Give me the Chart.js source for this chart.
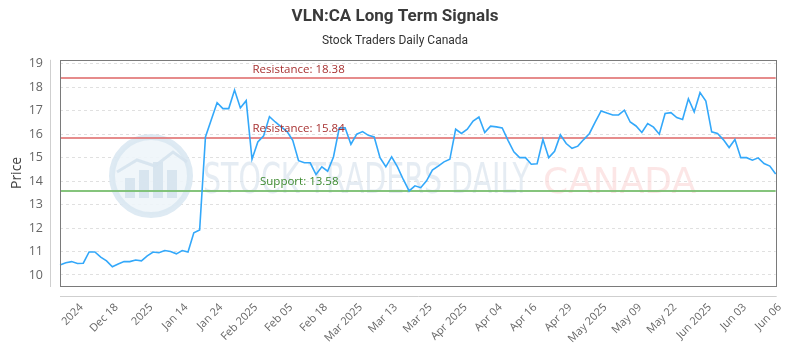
<!DOCTYPE html>
<html>
<head>
<meta charset="utf-8">
<script src="https://cdn.jsdelivr.net/npm/chart.js@4"></script>
<style>
  html, body { margin: 0; padding: 0; background: #fff; }
  #wrap { width: 800px; height: 350px; }
</style>
</head>
<body>
<div id="wrap"><canvas id="chart" width="800" height="350"></canvas></div>
<script>
// Daily closing prices, VLN:CA
const prices = [
  10.43, 10.52, 10.57, 10.49, 10.50, 10.98, 10.98, 10.76, 10.60, 10.35,
  10.47, 10.57, 10.57, 10.64, 10.60, 10.81, 10.98, 10.95, 11.04, 11.00,
  10.90, 11.04, 10.98, 11.80, 11.92, 15.88, 16.62, 17.34, 17.09, 17.09,
  17.88, 17.12, 17.43, 14.93, 15.67, 15.93, 16.75, 16.52, 16.31, 16.12,
  15.74, 14.87, 14.78, 14.78, 14.28, 14.61, 14.42, 15.03, 16.27, 16.27,
  15.57, 16.00, 16.11, 15.95, 15.88, 15.00, 14.61, 15.03, 14.61, 14.07,
  13.58, 13.80, 13.72, 14.01, 14.47, 14.64, 14.82, 14.93, 16.21, 16.03,
  16.21, 16.56, 16.73, 16.07, 16.34, 16.31, 16.27, 15.74, 15.25, 15.00,
  15.00, 14.72, 14.74, 15.77, 15.00, 15.27, 15.97, 15.60, 15.40, 15.49,
  15.77, 16.03, 16.52, 16.99, 16.90, 16.82, 16.82, 17.02, 16.52, 16.35,
  16.07, 16.45, 16.30, 16.00, 16.88, 16.92, 16.71, 16.63, 17.51, 16.95,
  17.77, 17.41, 16.10, 16.03, 15.77, 15.43, 15.77, 15.00, 15.00, 14.89,
  14.99, 14.75, 14.64, 14.30
];

// Date labels shown along the x axis (one every six sessions)
const tickLabels = [
  '2024', 'Dec 18', '2025', 'Jan 14', 'Jan 24', 'Feb 2025', 'Feb 05',
  'Feb 18', 'Mar 2025', 'Mar 13', 'Mar 25', 'Apr 2025', 'Apr 04', 'Apr 16',
  'Apr 29', 'May 2025', 'May 09', 'May 22', 'Jun 2025', 'Jun 03', 'Jun 06'
];

// Signal levels
const levelNames  = ['Resistance', 'Resistance', 'Support'];
const levelValues = [18.38, 15.84, 13.58];
const levelKinds  = ['res', 'res', 'sup'];

const yTicks = [10, 11, 12, 13, 14, 15, 16, 17, 18, 19];

const sessions = prices.map((_, i) => i);

const levelStyle = {
  res: { line: 'rgba(226,120,120,0.85)', text: '#a83232', dx: 192.5 },
  sup: { line: 'rgba(120,190,110,0.9)',  text: '#3d8a2f', dx: 200 }
};

// Faint brand mark behind the plot
const watermark = {
  id: 'watermark',
  beforeDatasetsDraw(chart) {
    const ctx = chart.ctx;
    ctx.save();
    // round logo
    const cx = 151, cy = 176, r = 39;
    ctx.beginPath();
    ctx.arc(cx, cy, r, 0, Math.PI * 2);
    ctx.fillStyle = 'rgba(238,245,250,0.9)';
    ctx.fill();
    ctx.lineWidth = 6;
    ctx.strokeStyle = 'rgba(218,232,242,0.9)';
    ctx.stroke();
    ctx.fillStyle = 'rgba(214,227,238,0.9)';
    ctx.fillRect(cx - 26, cy + 2, 10, 20);
    ctx.fillRect(cx - 12, cy - 6, 10, 28);
    ctx.fillRect(cx + 2, cy - 14, 10, 36);
    ctx.fillRect(cx + 16, cy - 6, 10, 28);
    ctx.beginPath();
    ctx.moveTo(cx - 34, cy - 4);
    ctx.lineTo(cx - 14, cy - 16);
    ctx.lineTo(cx + 4, cy - 10);
    ctx.lineTo(cx + 22, cy - 24);
    ctx.lineTo(cx + 36, cy - 14);
    ctx.lineWidth = 3;
    ctx.strokeStyle = 'rgba(214,227,238,0.9)';
    ctx.stroke();
    // wordmark
    ctx.textBaseline = 'alphabetic';
    ctx.font = '42px "DejaVu Sans"';
    ctx.fillStyle = 'rgba(218,228,238,0.7)';
    ctx.fillText('STOCK TRADERS DAILY', 203, 193, 327);
    ctx.font = '36px "DejaVu Sans"';
    ctx.fillStyle = 'rgba(250,216,216,0.65)';
    ctx.fillText('CANADA', 543, 193, 154);
    ctx.restore();
  }
};

// Plot frame, offset axis rules and signal levels
const frame = {
  id: 'frame',
  beforeDatasetsDraw(chart) {
    const { ctx, chartArea: a, scales: { y } } = chart;
    ctx.save();
    levelValues.forEach((v, i) => {
      const st = levelStyle[levelKinds[i]];
      const py = Math.round(y.getPixelForValue(v));
      ctx.beginPath();
      ctx.moveTo(a.left, py);
      ctx.lineTo(a.right, py);
      ctx.lineWidth = 2;
      ctx.strokeStyle = st.line;
      ctx.stroke();
    });
    ctx.restore();
  },
  afterDatasetsDraw(chart) {
    const { ctx, chartArea: a, scales: { y } } = chart;
    ctx.save();
    levelValues.forEach((v, i) => {
      const st = levelStyle[levelKinds[i]];
      const py = y.getPixelForValue(v);
      ctx.font = '11.5px "Open Sans"';
      ctx.fillStyle = st.text;
      ctx.textBaseline = 'middle';
      ctx.fillText(levelNames[i] + ': ' + v.toFixed(2), a.left + st.dx, py - 9);
    });
    ctx.lineWidth = 1;
    ctx.strokeStyle = '#7a7a7a';
    ctx.strokeRect(Math.round(a.left) + 0.5, Math.round(a.top) + 0.5,
                   Math.round(a.right - a.left), Math.round(a.bottom - a.top));
    ctx.strokeStyle = '#cfcfcf';
    ctx.beginPath();
    ctx.moveTo(Math.round(a.left) - 9.5, a.top);
    ctx.lineTo(Math.round(a.left) - 9.5, a.bottom + 1);
    ctx.moveTo(a.left, Math.round(a.bottom) + 10.5);
    ctx.lineTo(a.right + 1, Math.round(a.bottom) + 10.5);
    ctx.stroke();
    ctx.restore();
  }
};

new Chart(document.getElementById('chart'), {
  type: 'line',
  data: {
    labels: sessions,
    datasets: [{
      label: 'VLN:CA',
      data: prices,
      borderColor: 'rgb(51,168,250)',
      borderWidth: 1.6,
      pointRadius: 0,
      tension: 0,
      fill: false
    }]
  },
  options: {
    responsive: false,
    animation: false,
    layout: { padding: { left: 0, right: 10, top: 0, bottom: 0 } },
    plugins: {
      legend: { display: false },
      tooltip: { enabled: false },
      title: {
        display: true,
        text: 'VLN:CA Long Term Signals',
        color: '#3a3a3a',
        font: { family: 'Roboto', size: 17, weight: 'bold' },
        padding: { top: 7, bottom: 6 }
      },
      subtitle: {
        display: true,
        text: 'Stock Traders Daily Canada',
        color: '#333',
        font: { family: 'Roboto', size: 12 },
        padding: { top: 0, bottom: 12 }
      }
    },
    scales: {
      x: {
        grid: { display: false, drawTicks: false },
        border: { display: false },
        ticks: {
          autoSkip: false,
          maxRotation: 45,
          minRotation: 45,
          padding: 15,
          labelOffset: 4,
          color: '#666',
          font: { family: 'Open Sans', size: 11 },
          callback: (v, i) => (i % 6 === 3 ? tickLabels[(i - 3) / 6] : null)
        },
        afterFit: (s) => { s.height = 64; }
      },
      y: {
        min: 9.53,
        max: 19.17,
        afterBuildTicks: (s) => { s.ticks = yTicks.map(v => ({ value: v })); },
        grid: {
          color: '#e0e0e0',
          drawTicks: false
        },
        border: { display: false, dash: [3, 3] },
        ticks: {
          padding: 17,
          color: '#666',
          font: { family: 'Open Sans', size: 12.5 }
        },
        title: {
          display: true,
          text: 'Price',
          color: '#444',
          font: { family: 'Open Sans', size: 14 },
          padding: { top: 9, bottom: 0 }
        },
        afterFit: (s) => { s.width = 60; }
      }
    }
  },
  plugins: [watermark, frame]
});
</script>
</body>
</html>
